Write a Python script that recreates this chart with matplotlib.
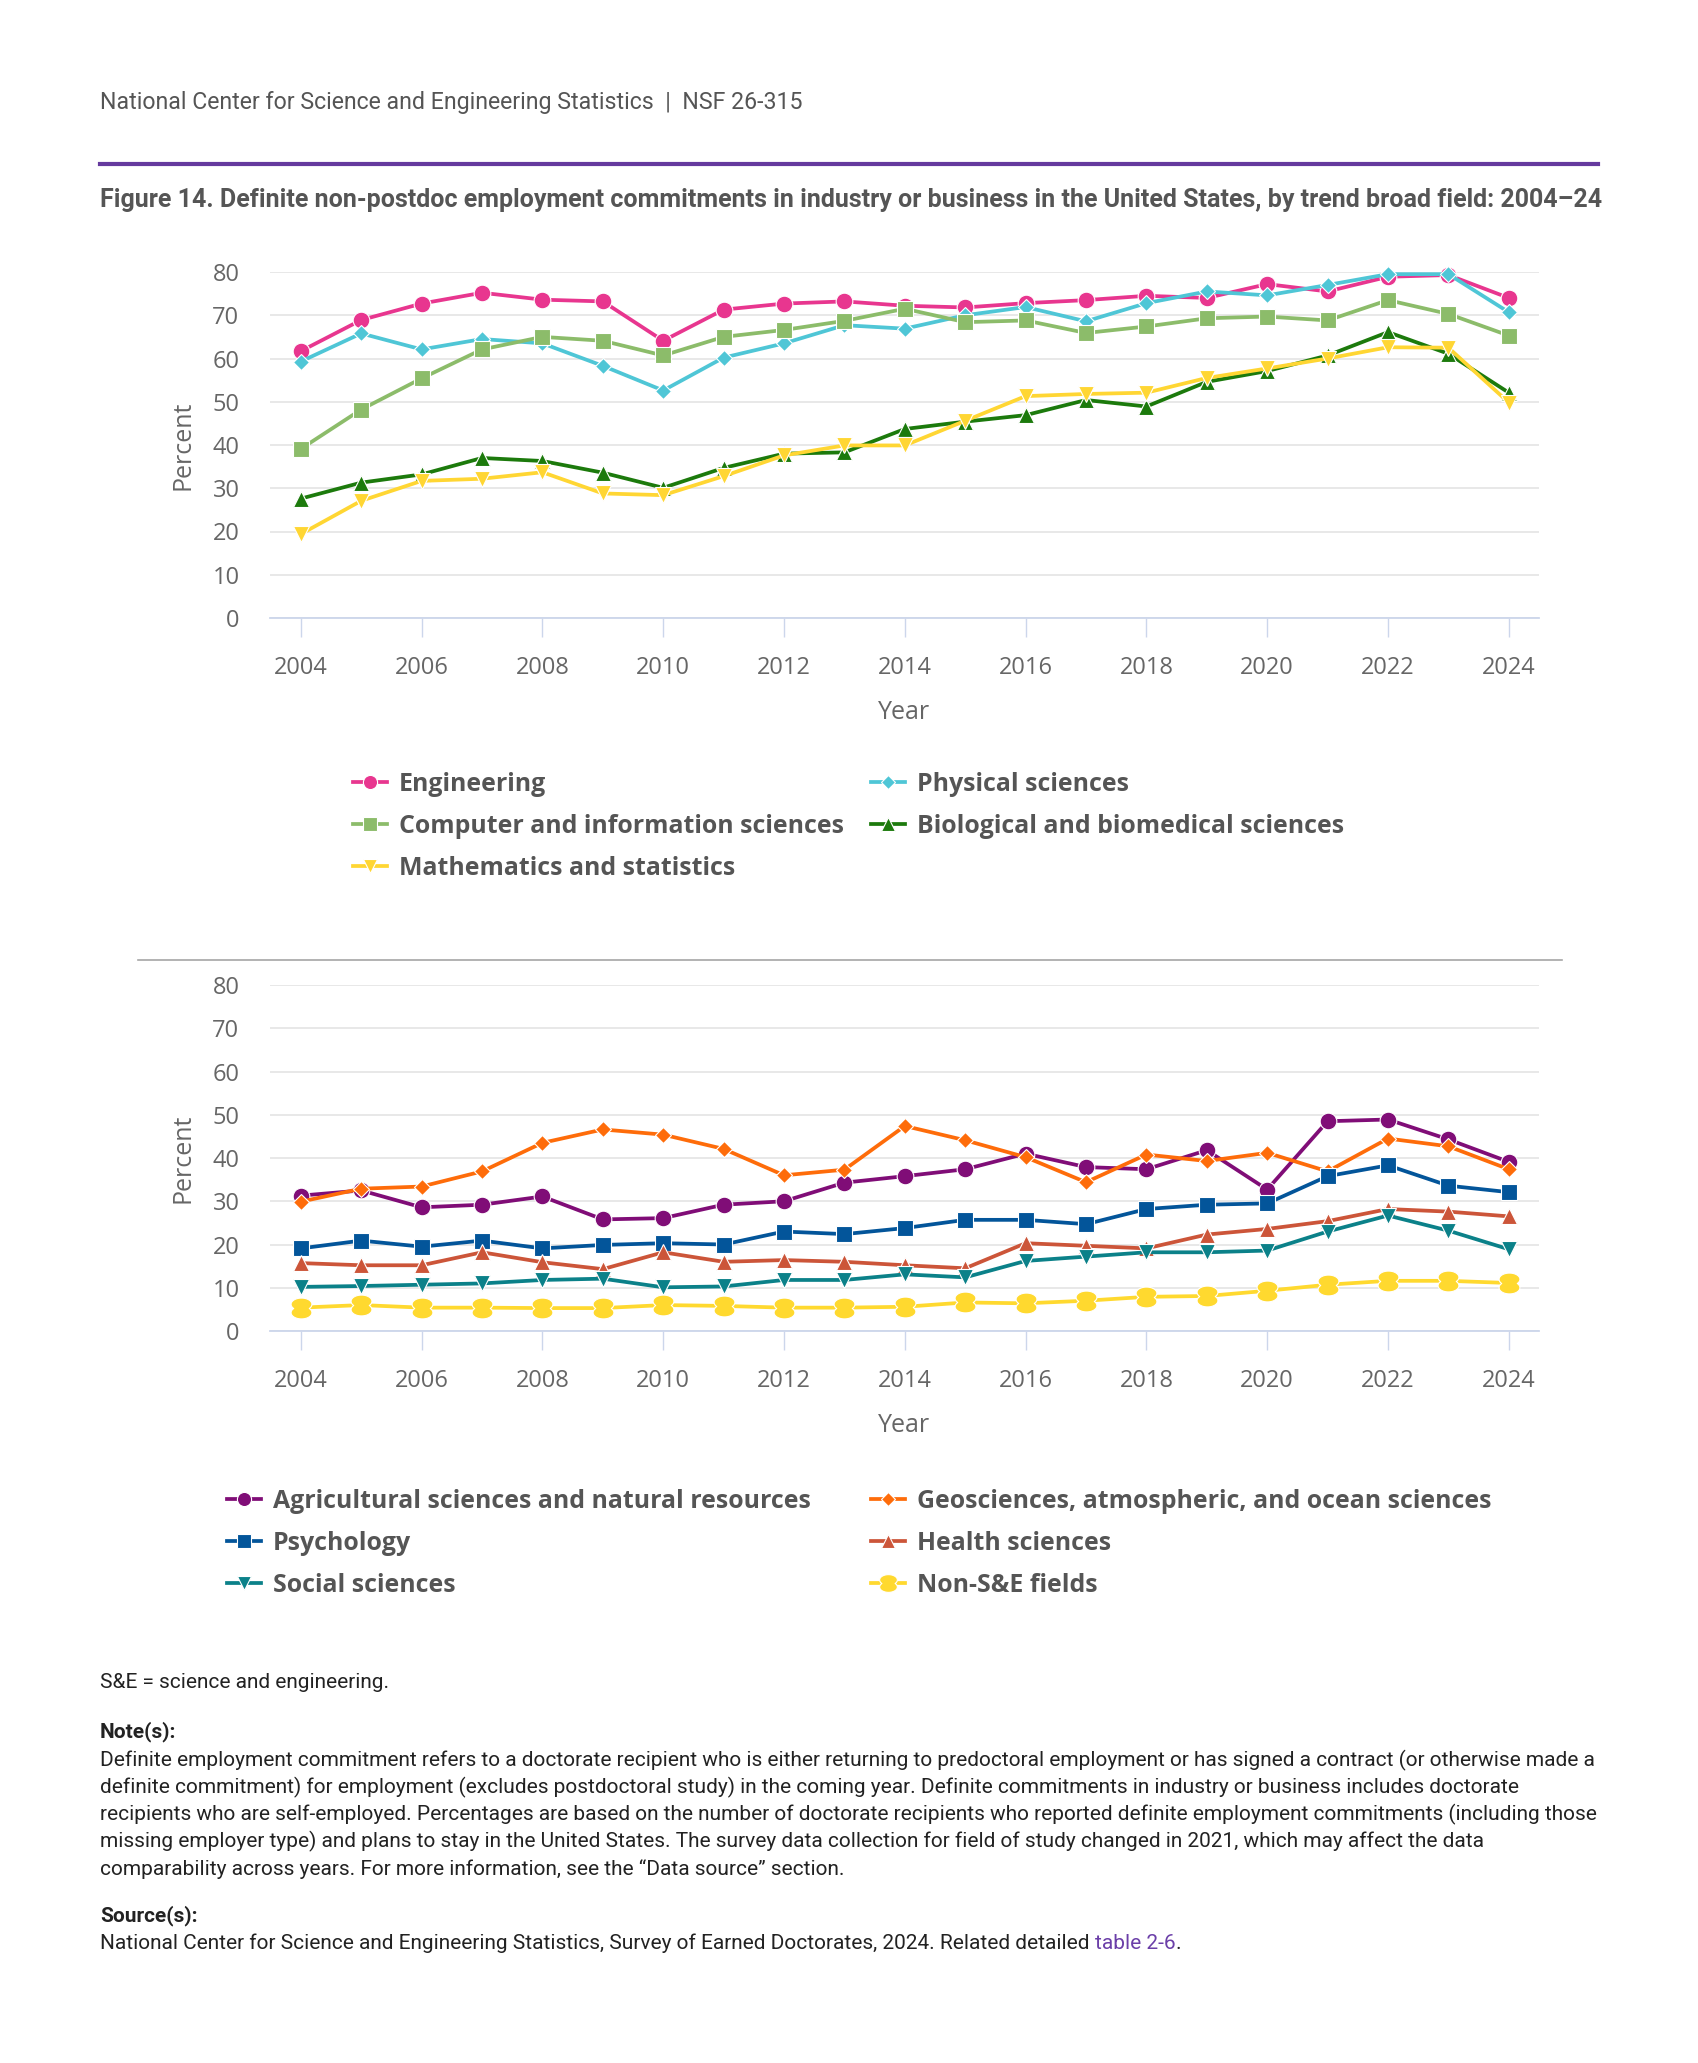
import numpy as np
from matplotlib import pyplot as plt
from matplotlib.lines import Line2D
from matplotlib.path import Path

years = list(range(2004, 2025))

# top panel
engineering = [61.7, 68.9, 72.7, 75.2, 73.6, 73.2, 64.1, 71.3, 72.7, 73.2, 72.2,
               71.8, 72.8, 73.5, 74.5, 74.0, 77.2, 75.5, 78.9, 79.3, 74.0]
physical = [59.3, 65.8, 62.1, 64.5, 63.5, 58.3, 52.6, 60.2, 63.5, 67.7, 66.9,
            70.0, 71.9, 68.6, 72.8, 75.5, 74.6, 77.0, 79.5, 79.5, 70.7]
computer = [39.1, 48.2, 55.4, 62.1, 65.0, 64.1, 60.7, 65.0, 66.6, 68.7, 71.5,
            68.4, 68.8, 65.9, 67.4, 69.3, 69.7, 68.8, 73.5, 70.3, 65.3]
biological = [27.6, 31.3, 33.2, 37.0, 36.3, 33.6, 30.1, 34.7, 38.0, 38.3, 43.7,
              45.4, 46.9, 50.4, 48.9, 54.6, 57.1, 60.7, 66.1, 61.1, 52.1]
math_stats = [19.4, 27.1, 31.7, 32.2, 33.7, 28.8, 28.4, 32.8, 37.6, 39.9, 39.9,
              45.6, 51.3, 51.8, 52.1, 55.5, 57.7, 60.0, 62.6, 62.5, 49.8]

# bottom panel
agricultural = [31.3, 32.5, 28.6, 29.2, 31.1, 25.8, 26.1, 29.2, 30.0, 34.3, 35.8,
                37.4, 41.0, 37.9, 37.4, 41.8, 32.7, 48.5, 48.9, 44.3, 39.1]
geosciences = [29.9, 32.9, 33.4, 36.9, 43.5, 46.6, 45.4, 42.1, 36.0, 37.3, 47.4,
               44.1, 40.2, 34.4, 40.8, 39.3, 41.2, 36.9, 44.5, 42.7, 37.4]
psychology = [19.1, 20.9, 19.5, 20.9, 19.1, 19.9, 20.3, 20.0, 23.0, 22.4, 23.8,
              25.7, 25.7, 24.7, 28.2, 29.2, 29.5, 35.8, 38.3, 33.6, 32.1]
health = [15.7, 15.2, 15.2, 18.2, 15.9, 14.3, 18.2, 16.0, 16.4, 16.0, 15.2,
          14.5, 20.3, 19.7, 19.1, 22.3, 23.6, 25.4, 28.2, 27.6, 26.5]
social = [10.2, 10.4, 10.7, 11.0, 11.8, 12.1, 10.1, 10.3, 11.8, 11.8, 13.1,
          12.4, 16.2, 17.2, 18.2, 18.2, 18.6, 23.0, 26.7, 23.2, 18.9]
non_se = [5.4, 6.0, 5.4, 5.4, 5.3, 5.3, 6.0, 5.8, 5.4, 5.4, 5.6,
          6.6, 6.4, 7.0, 7.9, 8.1, 9.3, 10.7, 11.6, 11.6, 11.1]

TEXT = 'Roboto'
CHART = 'Open Sans'
W, H = 1699, 2063


def double_lobe():
    # two stacked flat ellipses, like the symbol used for Non-S&E
    a, b, d = 0.5, 0.3, 0.2
    x0 = a * np.sqrt(1 - (d / b) ** 2)
    a0 = np.arctan2(-d / b, x0 / a)
    t1 = np.linspace(a0, np.pi - a0, 30)
    t2 = np.linspace(np.pi + a0, 2 * np.pi - a0, 30)
    top = np.column_stack([a * np.cos(t1), d + b * np.sin(t1)])
    bot = np.column_stack([a * np.cos(t2), -d + b * np.sin(t2)])
    verts = np.vstack([top, bot, top[:1]])
    return Path(verts, closed=True)


def fx(px):
    return px / W


def fy(py):
    return 1 - py / H


def style_axes(ax):
    ax.set_xlim(2003.49, 2024.5)
    ax.set_ylim(0, 80)
    ax.set_xticks(range(2004, 2025, 2))
    ax.set_yticks(range(0, 81, 10))
    for s in ['top', 'right', 'left']:
        ax.spines[s].set_visible(False)
    ax.spines['bottom'].set_color('#ccd6eb')
    ax.spines['bottom'].set_linewidth(1.3)
    ax.spines['bottom'].set_zorder(1)
    ax.grid(axis='y', color='#e6e6e6', linewidth=1.3)
    ax.set_axisbelow(True)
    ax.tick_params(axis='x', length=14, width=1, color='#ccd6eb', pad=13.5,
                   labelsize=17, labelcolor='#666666')
    ax.tick_params(axis='y', length=0, pad=22, labelsize=17, labelcolor='#666666')
    for lab in ax.get_xticklabels() + ax.get_yticklabels():
        lab.set_family(CHART)
    ax.set_xlabel('Year', family=CHART, fontsize=18, color='#666666', labelpad=14)
    ax.set_ylabel('Percent', family=CHART, fontsize=18, color='#666666', labelpad=12)


def draw(ax, series):
    handles = []
    for label, vals, color, marker, ms in series:
        h, = ax.plot(years, vals, color=color, linewidth=2.7, marker=marker,
                     markersize=ms, markeredgecolor='white', markeredgewidth=0.8,
                     clip_on=False, label=label, zorder=3)
        handles.append(h)
    return handles


def legend_col(fig, handles, x_px, y_px):
    leg = fig.legend(handles=handles, loc='upper left',
                     bbox_to_anchor=(fx(x_px), fy(y_px)), frameon=False,
                     borderpad=0, borderaxespad=0, handlelength=1.35,
                     handletextpad=0.5, labelspacing=0.68, markerscale=0.85,
                     prop={'family': CHART, 'weight': 'bold', 'size': 17.9})
    for t in leg.get_texts():
        t.set_color('#555555')
    return leg


fig = plt.figure(figsize=(W / 100, H / 100), dpi=100)

# header
fig.text(fx(100), fy(102), 'National Center for Science and Engineering Statistics  |  NSF 26-315',
         family=TEXT, fontsize=16.7, color='#555555', va='center')
fig.add_artist(Line2D([fx(100), fx(1598)], [fy(164), fy(164)], color='#653a9e',
                      linewidth=3))
fig.text(fx(100), fy(200), 'Figure 14. Definite non-postdoc employment commitments in industry or '
         'business in the United States, by trend broad field: 2004\u201324',
         family=TEXT, fontsize=18, weight='bold', color='#555555', va='center')

ax1 = fig.add_axes([fx(270), fy(618), fx(1539 - 270), 346 / H])
top_series = [
    ('Engineering', engineering, '#e8368f', 'o', 12),
    ('Physical sciences', physical, '#4fc6d6', 'D', 8.5),
    ('Computer and information sciences', computer, '#8cbc6a', 's', 12),
    ('Biological and biomedical sciences', biological, '#1c7a0c', '^', 12),
    ('Mathematics and statistics', math_stats, '#ffd633', 'v', 12),
]
h1 = draw(ax1, top_series)
style_axes(ax1)
legend_col(fig, [h1[0], h1[2], h1[4]], 353, 772)
legend_col(fig, [h1[1], h1[3]], 871, 772)

# separator above the second chart
fig.add_artist(Line2D([fx(138), fx(1562)], [fy(960), fy(960)], color='#a6a6a6',
                      linewidth=1.2))

ax2 = fig.add_axes([fx(270), fy(1331), fx(1539 - 270), 346 / H])
bottom_series = [
    ('Agricultural sciences and natural resources', agricultural, '#800d77', 'o', 12),
    ('Geosciences, atmospheric, and ocean sciences', geosciences, '#fe6c0a', 'D', 8.5),
    ('Psychology', psychology, '#03559a', 's', 12),
    ('Health sciences', health, '#cc5539', '^', 12),
    ('Social sciences', social, '#0b8189', 'v', 12),
    ('Non-S&E fields', non_se, '#ffd92f', double_lobe(), 15),
]
h2 = draw(ax2, bottom_series)
style_axes(ax2)
legend_col(fig, [h2[0], h2[2], h2[4]], 227, 1489)
legend_col(fig, [h2[1], h2[3], h2[5]], 871, 1489)

# footnotes
foot = dict(family=TEXT, fontsize=15.05, color='#222222', va='center')
fig.text(fx(100), fy(1683), 'S&E = science and engineering.', **foot)
fig.text(fx(100), fy(1732), 'Note(s):', weight='bold', **foot)
note_lines = [
    'Definite employment commitment refers to a doctorate recipient who is either returning to '
    'predoctoral employment or has signed a contract (or otherwise made a',
    'definite commitment) for employment (excludes postdoctoral study) in the coming year. '
    'Definite commitments in industry or business includes doctorate',
    'recipients who are self-employed. Percentages are based on the number of doctorate recipients '
    'who reported definite employment commitments (including those',
    'missing employer type) and plans to stay in the United States. The survey data collection for '
    'field of study changed in 2021, which may affect the data',
    'comparability across years. For more information, see the \u201cData source\u201d section.',
]
for i, line in enumerate(note_lines):
    fig.text(fx(100), fy(1760 + 27.3 * i), line, **foot)
fig.text(fx(100), fy(1916), 'Source(s):', weight='bold', **foot)
src = fig.text(fx(100), fy(1943), 'National Center for Science and Engineering Statistics, '
               'Survey of Earned Doctorates, 2024. Related detailed ', **foot)
link = ax2.annotate('table 2-6', xy=(1, 0), xycoords=src, ha='left', va='bottom',
                    family=TEXT, fontsize=15.05, color='#6b3fa8')
ax2.annotate('.', xy=(1, 0), xycoords=link, ha='left', va='bottom',
             family=TEXT, fontsize=15.05, color='#222222')

fig.savefig('out.png', dpi=100)
